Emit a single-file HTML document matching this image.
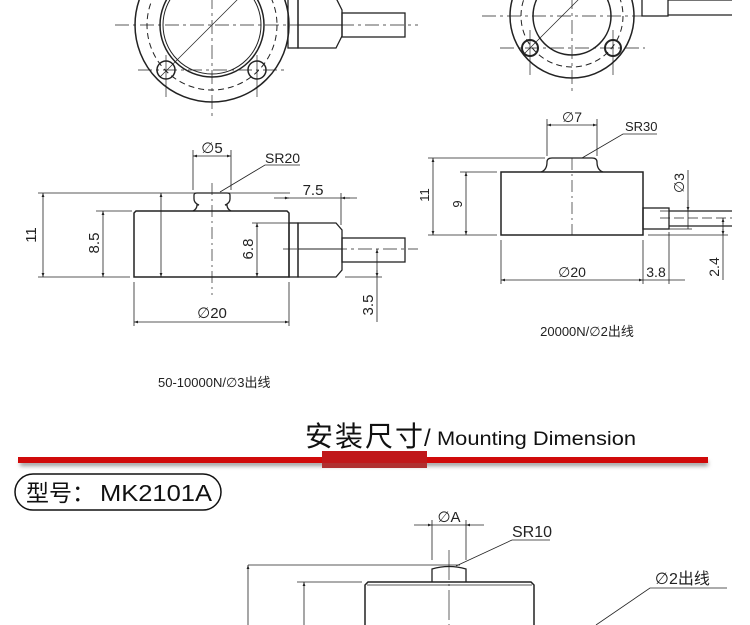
<!DOCTYPE html>
<html><head><meta charset="utf-8"><style>
html,body{margin:0;padding:0;background:#fff;}
svg{display:block;}
text{font-family:"Liberation Sans","Noto Sans CJK SC",sans-serif;fill:#222;}
.d{font-family:"DejaVu Sans",sans-serif;}
</style></head><body>
<svg width="750" height="625" viewBox="0 0 750 625" xmlns="http://www.w3.org/2000/svg">
<defs>
<marker id="a" viewBox="0 0 10 10" refX="10" refY="5" markerWidth="7" markerHeight="5" orient="auto-start-reverse"><path d="M0,1.5L10,5L0,8.5z" fill="#222"/></marker>
<filter id="sh" x="-5%" y="-50%" width="110%" height="300%"><feGaussianBlur stdDeviation="2"/></filter>
</defs>
<g stroke="#222" fill="none" stroke-width="1">
<circle cx="212" cy="25" r="77" stroke-width="1.5"/>
<circle cx="212" cy="25" r="65" stroke-dasharray="6,4"/>
<circle cx="212" cy="25" r="52" stroke-width="1.5"/>
<circle cx="212" cy="25" r="49"/>
<circle cx="166" cy="70" r="9" stroke-width="1.5"/>
<circle cx="257" cy="70" r="9" stroke-width="1.5"/>
<line x1="115" y1="25" x2="418" y2="25" stroke-dasharray="14,4,3,4" stroke-width="0.7"/>
<line x1="212" y1="-5" x2="212" y2="120" stroke-dasharray="14,4,3,4" stroke-width="0.7"/>
<line x1="138" y1="70" x2="285" y2="70" stroke-dasharray="14,4,3,4" stroke-width="0.7"/>
<line x1="166" y1="55" x2="166" y2="97" stroke-width="0.7"/>
<line x1="257" y1="55" x2="257" y2="97" stroke-width="0.7"/>
<line x1="160" y1="77" x2="245" y2="-8" stroke-width="0.7"/>
<rect x="288" y="-2" width="10" height="50" stroke-width="1.3"/>
<path d="M298,-2H336L342,10V36L336,48H298Z" stroke-width="1.3"/>
<line x1="298" y1="25" x2="342" y2="25"/>
<rect x="342" y="13" width="63" height="24" stroke-width="1.3"/>
<path d="M134,277V213L136,211H287L289,213V277Z" stroke-width="1.5"/>
<path d="M193,211Q197,209 197,205H199Q194,203 194,199V195Q194,193 197,193H227Q230,193 230,195V199Q230,203 225,205H227Q227,209 231,211" stroke-width="1.3"/>
<line x1="212" y1="183" x2="212" y2="295" stroke-dasharray="12,4,2,4" stroke-width="0.7"/>
<rect x="289" y="223" width="9" height="54" stroke-width="1.3"/>
<path d="M298,223H336L342,230V270L336,277H298Z" stroke-width="1.3"/>
<line x1="298" y1="249" x2="342" y2="249"/>
<rect x="342" y="238" width="63" height="24" stroke-width="1.3"/>
<line x1="283" y1="249" x2="418" y2="249" stroke-dasharray="14,4,3,4" stroke-width="0.7"/>
<line x1="38" y1="193" x2="290" y2="193" stroke-width="0.8"/>
<line x1="38" y1="277" x2="130" y2="277" stroke-width="0.8"/>
<line x1="96" y1="211" x2="132" y2="211" stroke-width="0.8"/>
<line x1="43" y1="193" x2="43" y2="277" marker-start="url(#a)" marker-end="url(#a)" stroke-width="0.8"/>
<line x1="103" y1="211" x2="103" y2="277" marker-start="url(#a)" marker-end="url(#a)" stroke-width="0.8"/>
<line x1="161" y1="193" x2="161" y2="277" marker-start="url(#a)" marker-end="url(#a)" stroke-width="0.8"/>
<line x1="252" y1="223" x2="289" y2="223" stroke-width="0.8"/>
<line x1="257" y1="223" x2="257" y2="277" marker-start="url(#a)" marker-end="url(#a)" stroke-width="0.8"/>
<line x1="341" y1="193" x2="341" y2="225" stroke-width="0.8"/>
<line x1="274" y1="198" x2="357" y2="198" stroke-width="0.8"/>
<line x1="284" y1="198" x2="289" y2="198" marker-end="url(#a)" stroke-width="0.8"/>
<line x1="350" y1="198" x2="341" y2="198" marker-end="url(#a)" stroke-width="0.8"/>
<line x1="345" y1="277" x2="382" y2="277" stroke-width="0.8"/>
<line x1="377" y1="249" x2="377" y2="322" marker-start="url(#a)" stroke-width="0.8"/>
<line x1="377" y1="270" x2="377" y2="277" marker-end="url(#a)" stroke-width="0.8"/>
<line x1="134" y1="282" x2="134" y2="326" stroke-width="0.8"/>
<line x1="289" y1="282" x2="289" y2="326" stroke-width="0.8"/>
<line x1="134" y1="322" x2="289" y2="322" marker-start="url(#a)" marker-end="url(#a)" stroke-width="0.8"/>
<line x1="193" y1="150" x2="193" y2="190" stroke-width="0.8"/>
<line x1="231" y1="150" x2="231" y2="190" stroke-width="0.8"/>
<line x1="193" y1="156" x2="231" y2="156" marker-start="url(#a)" marker-end="url(#a)" stroke-width="0.8"/>
<polyline points="300,165 265,165 220,192" stroke-width="0.8"/>
<circle cx="572" cy="16" r="62" stroke-width="1.5"/>
<circle cx="572" cy="16" r="51" stroke-dasharray="6,4"/>
<circle cx="572" cy="16" r="39" stroke-width="1.5"/>
<circle cx="530" cy="48" r="8" stroke-width="2"/>
<circle cx="613" cy="48" r="8" stroke-width="2"/>
<line x1="482" y1="16" x2="660" y2="16" stroke-dasharray="14,4,3,4" stroke-width="0.7"/>
<line x1="572" y1="-5" x2="572" y2="95" stroke-dasharray="14,4,3,4" stroke-width="0.7"/>
<line x1="500" y1="48" x2="645" y2="48" stroke-dasharray="14,4,3,4" stroke-width="0.7"/>
<line x1="530" y1="30" x2="530" y2="75" stroke-width="0.7"/>
<line x1="613" y1="30" x2="613" y2="75" stroke-width="0.7"/>
<line x1="524" y1="54" x2="580" y2="-2" stroke-width="0.7"/>
<rect x="642" y="-2" width="26" height="18" stroke-width="1.3"/>
<path d="M668,0H732M668,15H732" stroke-width="1.3"/>
<rect x="501" y="172" width="142" height="63" stroke-width="1.5"/>
<path d="M541,172Q547,170 547,162Q547,158 552,158H592Q597,158 597,162Q597,170 603,172" stroke-width="1.3"/>
<line x1="572" y1="158" x2="572" y2="235" stroke-dasharray="12,4,2,4" stroke-width="0.7"/>
<rect x="643" y="208" width="26" height="21" stroke-width="1.3"/>
<path d="M669,211H732M669,226H732" stroke-width="1.3"/>
<line x1="660" y1="218" x2="732" y2="218" stroke-dasharray="10,4" stroke-width="0.7"/>
<line x1="428" y1="158" x2="545" y2="158" stroke-width="0.8"/>
<line x1="428" y1="235" x2="497" y2="235" stroke-width="0.8"/>
<line x1="460" y1="172" x2="497" y2="172" stroke-width="0.8"/>
<line x1="433" y1="158" x2="433" y2="235" marker-start="url(#a)" marker-end="url(#a)" stroke-width="0.8"/>
<line x1="466" y1="172" x2="466" y2="235" marker-start="url(#a)" marker-end="url(#a)" stroke-width="0.8"/>
<line x1="547" y1="119" x2="547" y2="156" stroke-width="0.8"/>
<line x1="597" y1="119" x2="597" y2="156" stroke-width="0.8"/>
<line x1="547" y1="125" x2="597" y2="125" marker-start="url(#a)" marker-end="url(#a)" stroke-width="0.8"/>
<polyline points="657,134 623,134 582,158" stroke-width="0.8"/>
<line x1="501" y1="240" x2="501" y2="284" stroke-width="0.8"/>
<line x1="643" y1="240" x2="643" y2="284" stroke-width="0.8"/>
<line x1="669" y1="232" x2="669" y2="284" stroke-width="0.8"/>
<line x1="501" y1="280" x2="643" y2="280" marker-start="url(#a)" marker-end="url(#a)" stroke-width="0.8"/>
<line x1="643" y1="280" x2="685" y2="280" stroke-width="0.8"/>
<line x1="660" y1="211" x2="692" y2="211" stroke-width="0.8"/>
<line x1="660" y1="229" x2="692" y2="229" stroke-width="0.8"/>
<line x1="688" y1="170" x2="688" y2="229" stroke-width="0.8"/>
<line x1="688" y1="200" x2="688" y2="211" marker-end="url(#a)" stroke-width="0.8"/>
<line x1="648" y1="235" x2="728" y2="235" stroke-width="0.8"/>
<line x1="723" y1="218" x2="723" y2="280" stroke-width="0.8"/>
<line x1="723" y1="224" x2="723" y2="218" marker-end="url(#a)" stroke-width="0.8"/>
<line x1="723" y1="229" x2="723" y2="235" marker-end="url(#a)" stroke-width="0.8"/>
<path d="M365,625V585L368,582H531L534,585V625" stroke-width="1.5"/>
<line x1="367" y1="585" x2="532" y2="585" stroke-width="0.8"/>
<path d="M432,582V569Q449,564 466,569V582" stroke-width="1.3"/>
<line x1="449" y1="550" x2="449" y2="625" stroke-dasharray="30,4,2,4" stroke-width="0.7"/>
<line x1="248" y1="565" x2="460" y2="565" stroke-width="0.8"/>
<line x1="297" y1="582" x2="362" y2="582" stroke-width="0.8"/>
<line x1="248" y1="565" x2="248" y2="625" marker-start="url(#a)" stroke-width="0.8"/>
<line x1="304" y1="582" x2="304" y2="625" marker-start="url(#a)" stroke-width="0.8"/>
<line x1="432" y1="520" x2="432" y2="560" stroke-width="0.8"/>
<line x1="466" y1="520" x2="466" y2="560" stroke-width="0.8"/>
<line x1="414" y1="525" x2="432" y2="525" marker-end="url(#a)" stroke-width="0.8"/>
<line x1="484" y1="525" x2="466" y2="525" marker-end="url(#a)" stroke-width="0.8"/>
<line x1="432" y1="525" x2="466" y2="525" stroke-width="0.8"/>
<polyline points="550,540 512,540 456,566" stroke-width="0.8"/>
<polyline points="727,588 650,588 596,625" stroke-width="0.8"/>
</g>
<g font-size="15">
<text x="36" y="235" transform="rotate(-90 36 235)" text-anchor="middle">11</text>
<text x="99" y="243" transform="rotate(-90 99 243)" text-anchor="middle">8.5</text>
<text x="253" y="249" transform="rotate(-90 253 249)" text-anchor="middle">6.8</text>
<text x="373" y="305" transform="rotate(-90 373 305)" text-anchor="middle">3.5</text>
<text x="313" y="195" text-anchor="middle">7.5</text>
<text x="212" y="318" text-anchor="middle"><tspan class="d">∅</tspan>20</text>
<text x="212" y="153" text-anchor="middle"><tspan class="d">∅</tspan>5</text>
<text x="265" y="163" font-size="14">SR20</text>
<text x="158" y="387" font-size="13">50-10000N/<tspan class="d">∅</tspan>3出线</text>
<text x="429" y="195" transform="rotate(-90 429 195)" text-anchor="middle" font-size="13">11</text>
<text x="462" y="204" transform="rotate(-90 462 204)" text-anchor="middle" font-size="13">9</text>
<text x="572" y="277" text-anchor="middle" font-size="14"><tspan class="d">∅</tspan>20</text>
<text x="656" y="277" text-anchor="middle" font-size="14">3.8</text>
<text x="684" y="183" transform="rotate(-90 684 183)" text-anchor="middle" font-size="14"><tspan class="d">∅</tspan>3</text>
<text x="719" y="267" transform="rotate(-90 719 267)" text-anchor="middle" font-size="14">2.4</text>
<text x="572" y="122" text-anchor="middle" font-size="14"><tspan class="d">∅</tspan>7</text>
<text x="625" y="131" font-size="13">SR30</text>
<text x="587" y="336" text-anchor="middle" font-size="13">20000N/<tspan class="d">∅</tspan>2出线</text>
<text x="449" y="522" text-anchor="middle" font-size="15"><tspan class="d">∅</tspan>A</text>
<text x="512" y="537" font-size="16">SR10</text>
<text x="655" y="584" font-size="16"><tspan class="d">∅</tspan>2出线</text>
</g>
<text x="305" y="446" font-size="28" letter-spacing="2" font-family="'Noto Sans CJK SC',sans-serif" style="fill:#111">安装尺寸</text>
<text x="424" y="446" font-size="24" style="fill:#111">/</text>
<text x="437" y="445" font-size="19" textLength="199" lengthAdjust="spacingAndGlyphs" style="fill:#111">Mounting Dimension</text>
<rect x="20" y="461" width="688" height="5" fill="#999" filter="url(#sh)"/>
<rect x="18" y="457" width="690" height="6" fill="#d00a0a"/>
<rect x="322" y="451" width="105" height="17" fill="#c0181a"/>
<rect x="322" y="463" width="105" height="5" fill="#b03030"/>
<rect x="15" y="474" width="206" height="36" rx="18" fill="none" stroke="#111" stroke-width="1.5"/>
<text x="26" y="501" font-size="23" font-family="'Noto Sans CJK SC',sans-serif" style="fill:#111">型号：</text>
<text x="100" y="501" font-size="23" textLength="112" lengthAdjust="spacingAndGlyphs" style="fill:#111">MK2101A</text>
</svg>
</body></html>
